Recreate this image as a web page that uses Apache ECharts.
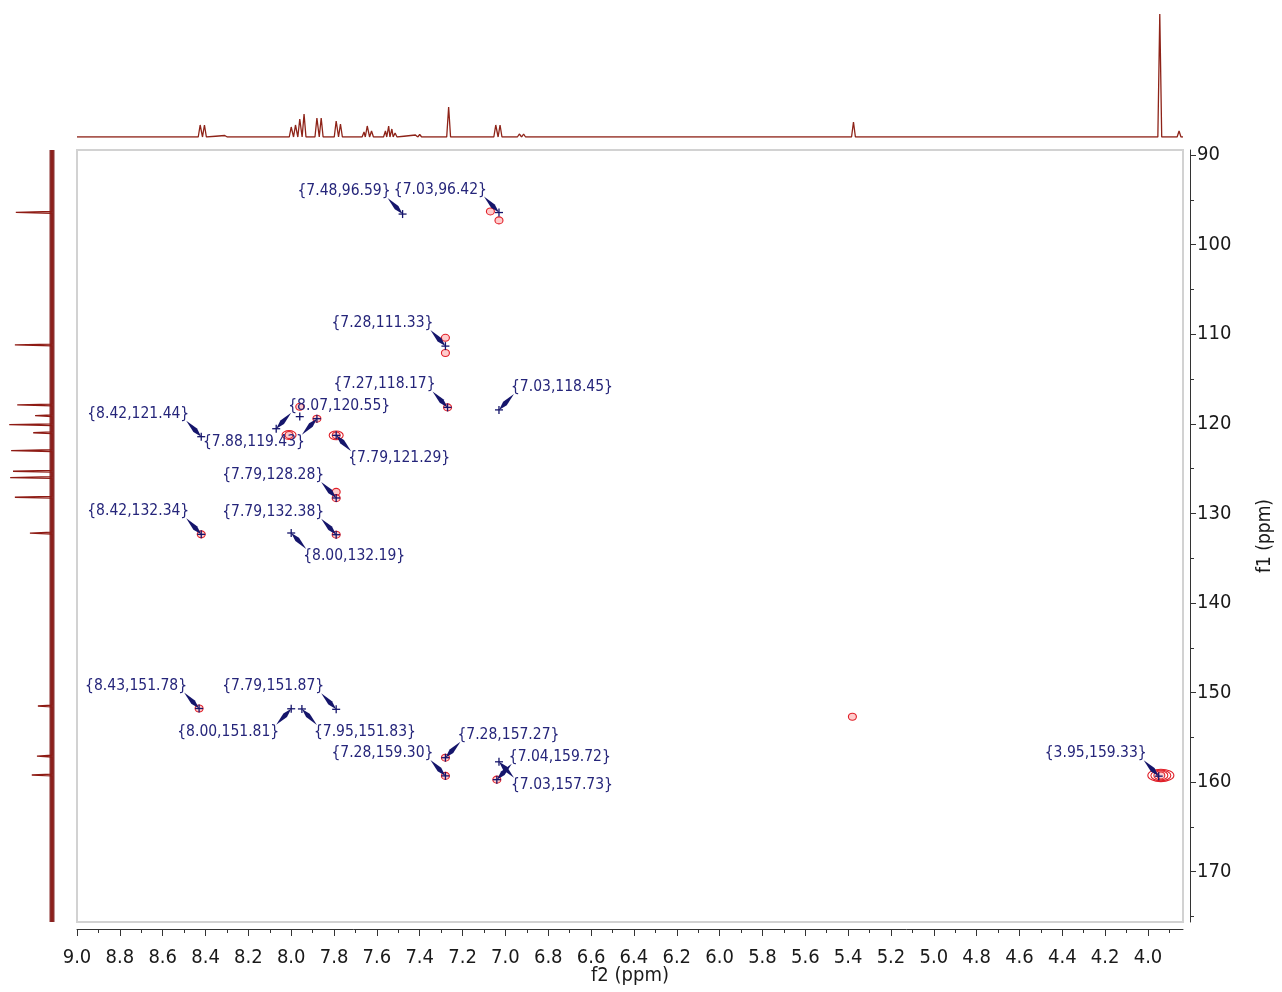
<!DOCTYPE html>
<html>
<head>
<meta charset="utf-8">
<script src="https://cdn.jsdelivr.net/npm/echarts@6/dist/echarts.min.js"></script>
<style>
html,body{margin:0;padding:0;background:#ffffff;}
#c{width:1282px;height:992px;}
</style>
</head>
<body>
<div id="c"></div>
<script>
// ---------- axis ranges (ppm) ----------
const F2_MIN = 3.8366, F2_MAX = 9.0;
const F1_MIN = 89.44, F1_MAX = 175.61;

// ---------- tick labels ----------
const f2MajorTicks = [9.0,8.8,8.6,8.4,8.2,8.0,7.8,7.6,7.4,7.2,7.0,6.8,6.6,6.4,6.2,6.0,5.8,5.6,5.4,5.2,5.0,4.8,4.6,4.4,4.2,4.0];
const f2MinorTicks = [8.9,8.7,8.5,8.3,8.1,7.9,7.7,7.5,7.3,7.1,6.9,6.7,6.5,6.3,6.1,5.9,5.7,5.5,5.3,5.1,4.9,4.7,4.5,4.3,4.1,3.9];
const f1MajorTicks = [90,100,110,120,130,140,150,160,170];
const f1MinorTicks = [95,105,115,125,135,145,155,165,175];

// ---------- labelled HMBC correlations {f2, f1} ----------
const annoF2 = [7.48, 7.03, 7.28, 7.27, 7.03, 8.07, 8.42, 7.88, 7.79, 7.79, 8.42, 7.79, 8.00, 8.43, 7.79, 8.00, 7.95, 7.28, 7.28, 7.04, 7.03, 3.95];
const annoF1 = [96.59, 96.42, 111.33, 118.17, 118.45, 120.55, 121.44, 119.43, 121.29, 128.28, 132.34, 132.38, 132.19, 151.78, 151.87, 151.81, 151.83, 157.27, 159.30, 159.72, 157.73, 159.33];

// ---------- contour cross peaks [f2, f1, contour levels] ----------
const contourPeaks = [
  [7.07, 96.3, 1], [7.03, 97.3, 1], [7.28, 110.4, 1], [7.28, 112.1, 1],
  [7.27, 118.17, 1], [7.96, 118.1, 1], [7.88, 119.43, 1], [8.01, 121.25, 2],
  [7.79, 121.29, 2], [7.79, 127.6, 1], [7.79, 128.3, 1], [8.42, 132.34, 1],
  [7.79, 132.38, 1], [8.43, 151.78, 1], [7.28, 157.27, 1], [7.28, 159.30, 1],
  [7.04, 159.72, 1], [5.38, 152.7, 1], [3.94, 159.25, 4]
];
const extraCrosses = [[7.96, 119.2]];

// ---------- 1H projection peaks [ppm, intensity] ----------
const protonPeaks = [
  [8.425,12],[8.405,12],[8.31,1.5],[8.29,1.5],
  [8.00,10],[7.98,12],[7.96,18],[7.94,23],
  [7.88,19],[7.86,19],[7.79,16],[7.77,13],
  [7.66,5],[7.645,11],[7.625,6],
  [7.56,6],[7.545,11],[7.53,8],[7.515,4],
  [7.42,2],[7.40,2.5],[7.37,1.5],
  [7.265,30],[7.045,12],[7.025,12],[6.935,3],[6.915,3],
  [6.71,1],[6.65,1],[5.375,15],[4.08,1.5],[3.945,123],[3.855,6]
];

// ---------- 13C projection peaks [ppm, intensity] ----------
const carbonPeaks = [
  [96.4,77],[111.2,79],[117.9,74],[119.1,36],[120.1,91],[121.0,40],
  [123.0,87],[125.3,83],[126.0,89],[128.2,79],[132.2,47],
  [151.5,30],[157.1,32],[159.2,43]
];

// ---------- layout of annotation labels (direction from the peak) ----------
const labelDir = ['NW','NW','NW','NW','NE','NE','NW','SW','SE','NW','NW','NW','SE','NW','NW','SW','SE','NE','NW','NE','SE','NW'];

function spikes(peaks, hw, lo, hi, swap) {
  const s = peaks.slice().sort((a, b) => a[0] - b[0]);
  const pts = [[lo, 0]];
  s.forEach(([p, h]) => { pts.push([p - hw, 0], [p, h], [p + hw, 0]); });
  pts.push([hi, 0]);
  return swap ? pts.map(([p, h]) => [h, p]) : pts;
}

const NAVY = '#15156b';
const FONT = '"DejaVu Sans Condensed", "DejaVu Sans", Verdana, sans-serif';

function renderAnno(params, api) {
  const i = params.dataIndex;
  const f2 = api.value(0), f1 = api.value(1);
  const p = api.coord([f2, f1]);
  const d = labelDir[i];
  const sx = d[1] === 'E' ? 1 : -1;
  const sy = d[0] === 'S' ? 1 : -1;
  const tx = p[0] + sx * 12, ty = p[1] + sy * 23;
  const ax = p[0] + sx * 15, ay = p[1] + sy * 16;
  const dx = p[0] - ax, dy = p[1] - ay, L = Math.hypot(dx, dy);
  const nx = -dy / L, ny = dx / L;
  const mx = ax + dx * 0.6, my = ay + dy * 0.6, w = 2.5;
  return {
    type: 'group',
    children: [
      { type: 'text', x: tx, y: ty, style: { text: '{' + f2.toFixed(2) + ',' + f1.toFixed(2) + '}', align: sx > 0 ? 'left' : 'right', verticalAlign: 'middle', font: '15.5px ' + FONT, fill: '#25257a' } },
      { type: 'polygon', shape: { points: [[ax, ay], [mx + nx * w, my + ny * w], [p[0], p[1]], [mx - nx * w, my - ny * w]] }, style: { fill: NAVY } },
      { type: 'line', shape: { x1: p[0] - 4, y1: p[1], x2: p[0] + 4, y2: p[1] }, style: { stroke: NAVY, lineWidth: 1.3 } },
      { type: 'line', shape: { x1: p[0], y1: p[1] - 4, x2: p[0], y2: p[1] + 4 }, style: { stroke: NAVY, lineWidth: 1.3 } }
    ]
  };
}

function renderCross(params, api) {
  const p = api.coord([api.value(0), api.value(1)]);
  return {
    type: 'group',
    children: [
      { type: 'line', shape: { x1: p[0] - 4, y1: p[1], x2: p[0] + 4, y2: p[1] }, style: { stroke: NAVY, lineWidth: 1.3 } },
      { type: 'line', shape: { x1: p[0], y1: p[1] - 4, x2: p[0], y2: p[1] + 4 }, style: { stroke: NAVY, lineWidth: 1.3 } }
    ]
  };
}

function renderContour(params, api) {
  const c = api.coord([api.value(0), api.value(1)]);
  const n = api.value(2);
  const ch = [];
  for (let k = n - 1; k >= 0; k--) {
    ch.push({
      type: 'ellipse',
      shape: { cx: c[0], cy: c[1], rx: 4 + 3.0 * k, ry: 3.5 + 0.9 * k },
      style: { fill: k === 0 ? 'rgba(255,170,170,0.6)' : 'rgba(0,0,0,0)', stroke: '#e01f28', lineWidth: 1.1 }
    });
  }
  return { type: 'group', children: ch };
}

const axisColor = '#333333';
const chart = echarts.init(document.getElementById('c'));
chart.setOption({
  animation: false,
  backgroundColor: '#ffffff',
  grid: [
    { left: 77, top: 150, width: 1106, height: 772, show: true, borderColor: '#d2d2d2', borderWidth: 2, backgroundColor: 'rgba(0,0,0,0)', containLabel: false, outerBoundsMode: 'none' },
    { left: 77, top: 10, width: 1106, height: 127, containLabel: false, outerBoundsMode: 'none' },
    { left: 5, top: 150, width: 47, height: 772, containLabel: false, outerBoundsMode: 'none' }
  ],
  xAxis: [
    {
      gridIndex: 0, type: 'value', min: F2_MIN, max: F2_MAX, inverse: true, position: 'bottom', offset: 7,
      axisLine: { show: true, lineStyle: { color: axisColor, width: 1 } },
      axisTick: { show: true, customValues: f2MajorTicks, length: 7, lineStyle: { color: axisColor } },
      axisLabel: { show: true, customValues: f2MajorTicks, formatter: v => Number(v).toFixed(1), fontSize: 20, fontFamily: FONT, color: '#1a1a1a', margin: 19 },
      splitLine: { show: false },
      name: 'f2 (ppm)', nameLocation: 'middle', nameGap: 37, nameMoveOverlap: false,
      nameTextStyle: { fontSize: 20, fontFamily: FONT, color: '#1a1a1a' }
    },
    {
      gridIndex: 0, type: 'value', min: F2_MIN, max: F2_MAX, inverse: true, position: 'bottom', offset: 7,
      axisLine: { show: false },
      axisTick: { show: true, customValues: f2MinorTicks, length: 4, lineStyle: { color: axisColor } },
      axisLabel: { show: false }, splitLine: { show: false }
    },
    { gridIndex: 1, type: 'value', min: F2_MIN, max: F2_MAX, inverse: true, show: false },
    { gridIndex: 2, type: 'value', min: 0, max: 100, inverse: true, show: false }
  ],
  yAxis: [
    {
      gridIndex: 0, type: 'value', min: F1_MIN, max: F1_MAX, inverse: true, position: 'right', offset: 7,
      axisLine: { show: true, lineStyle: { color: axisColor, width: 1 } },
      axisTick: { show: true, customValues: f1MajorTicks, length: 6, lineStyle: { color: axisColor } },
      axisLabel: { show: true, customValues: f1MajorTicks, fontSize: 20, fontFamily: FONT, color: '#1a1a1a', margin: 7 },
      splitLine: { show: false },
      name: 'f1 (ppm)', nameLocation: 'middle', nameGap: 66, nameRotate: 90, nameMoveOverlap: false,
      nameTextStyle: { fontSize: 19, fontFamily: FONT, color: '#1a1a1a' }
    },
    {
      gridIndex: 0, type: 'value', min: F1_MIN, max: F1_MAX, inverse: true, position: 'right', offset: 7,
      axisLine: { show: false },
      axisTick: { show: true, customValues: f1MinorTicks, length: 4, lineStyle: { color: axisColor } },
      axisLabel: { show: false }, splitLine: { show: false }
    },
    { gridIndex: 1, type: 'value', min: 0, max: 127, show: false },
    { gridIndex: 2, type: 'value', min: F1_MIN, max: F1_MAX, inverse: true, show: false }
  ],
  series: [
    {
      type: 'line', xAxisIndex: 2, yAxisIndex: 2, silent: true, showSymbol: false,
      data: spikes(protonPeaks, 0.009, F2_MIN, F2_MAX, false),
      lineStyle: { color: '#8e2318', width: 1.3 }
    },
    {
      type: 'line', xAxisIndex: 3, yAxisIndex: 3, silent: true, showSymbol: false,
      data: [[0, F1_MIN], [0, F1_MAX]],
      lineStyle: { color: '#7d1616', width: 5, opacity: 0.9 }
    },
    {
      type: 'line', xAxisIndex: 3, yAxisIndex: 3, silent: true, showSymbol: false,
      data: spikes(carbonPeaks, 0.1, F1_MIN, F1_MAX, true),
      lineStyle: { color: '#8e1b14', width: 1.3 }
    },
    {
      type: 'custom', xAxisIndex: 0, yAxisIndex: 0, silent: true,
      data: contourPeaks, renderItem: renderContour
    },
    {
      type: 'custom', xAxisIndex: 0, yAxisIndex: 0, silent: true,
      data: extraCrosses, renderItem: renderCross
    },
    {
      type: 'custom', xAxisIndex: 0, yAxisIndex: 0, silent: true,
      data: annoF2.map((x, i) => [x, annoF1[i]]), renderItem: renderAnno
    }
  ]
});
</script>
</body>
</html>
